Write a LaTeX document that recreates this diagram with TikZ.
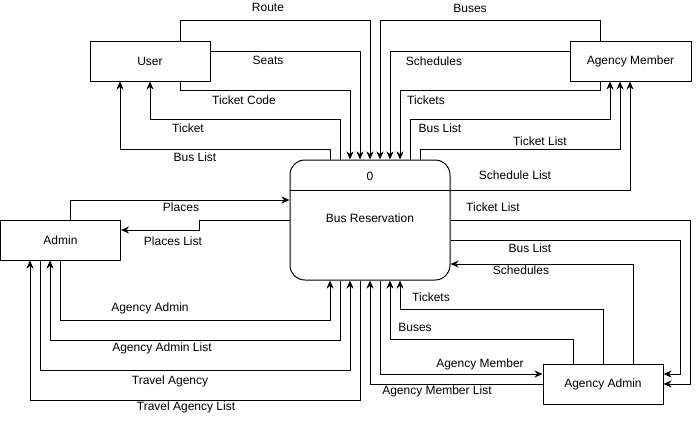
\documentclass[tikz,border=0pt]{standalone}
\usepackage{fontspec}
\setmainfont{Liberation Sans}
\usetikzlibrary{arrows.meta}

\tikzset{
	box/.style={draw, line width=1pt, minimum width=120pt, minimum height=40pt, inner sep=0pt, font=\fontsize{12}{14}\selectfont},
	flow/.style={draw, line width=1pt, -{Stealth[length=8pt,width=7pt,inset=2.5pt]}},
	lbl/.style={inner sep=0pt, font=\fontsize{12}{14}\selectfont}
}

\begin{document}
\begin{tikzpicture}[x=1pt,y=-1pt]
	\useasboundingbox (0,0) rectangle (699,421);

	% entities and the process
	\node[box] (user) at (150,61) {User};
	\node[box, minimum width=121pt] (amem) at (630.5,61) {Agency Member};
	\node[box] (admin) at (60.5,240) {Admin};
	\node[box] (aadm) at (603,384) {Agency Admin};
	\node[draw, line width=1pt, rounded corners=15pt, minimum width=160pt, minimum height=120pt] (bus) at (370,220) {};
	\draw[line width=1pt] (bus.west |- 0,190) -- (bus.east |- 0,190);
	\node[lbl] (busnum) at (370,176) {0};
	\node[lbl] (busname) at (370,218) {Bus Reservation};

	% user
	\draw[flow] (user.north -| 180,0) -- ++(0,-20) -| (bus.north -| 370,0);
	\draw[flow] (user.east |- 0,51) -| (bus.north -| 360,0);
	\draw[flow] (user.south -| 180,0) -- ++(0,9) -| (bus.north -| 350,0);
	\draw[flow] (bus.north -| 340,0) -- ++(0,-40) -| (user.south -| 150,0);
	\draw[flow] (bus.north -| 330,0) -- ++(0,-10) -| (user.south -| 120,0);
	\node[lbl] (lroute) at (268,7) {Route};
	\node[lbl] (lseats) at (268,60) {Seats};
	\node[lbl] (lcode) at (244,100) {Ticket Code};
	\node[lbl] (lticket) at (188,128) {Ticket};
	\node[lbl] (lbusu) at (195,157) {Bus List};

	% agency member
	\draw[flow] (amem.north -| 600,0) -- ++(0,-20) -| (bus.north -| 380,0);
	\draw[flow] (amem.west |- 0,51) -| (bus.north -| 390,0);
	\draw[flow] (amem.south -| 600,0) -- ++(0,9) -| (bus.north -| 400,0);
	\draw[flow] (bus.north -| 410,0) -- ++(0,-40) -| (amem.south -| 610,0);
	\draw[flow] (bus.north -| 420,0) -- ++(0,-10) -| (amem.south -| 620,0);
	\draw[flow] (bus.east |- 0,190) -| (amem.south -| 630,0);
	\node[lbl] (lbuses) at (470,8) {Buses};
	\node[lbl] (lsched) at (434,61) {Schedules};
	\node[lbl] (ltickets) at (426,100) {Tickets};
	\node[lbl] (lbusm) at (440,128) {Bus List};
	\node[lbl] (ltlistm) at (540,141) {Ticket List};
	\node[lbl] (lslist) at (515,175) {Schedule List};

	% admin
	\draw[flow] (admin.north -| 70,0) |- (bus.west |- 0,200);
	\draw[flow] (bus.west |- 0,220) -- ++(-90,0) |- (admin.east |- 0,230);
	\draw[flow] (admin.south -| 60,0) -- ++(0,60) -| (bus.south -| 330,0);
	\draw[flow] (bus.south -| 340,0) -- ++(0,60) -| (admin.south -| 50,0);
	\draw[flow] (admin.south -| 40,0) -- ++(0,110) -| (bus.south -| 350,0);
	\draw[flow] (bus.south -| 360,0) -- ++(0,120) -| (admin.south -| 30,0);
	\node[lbl] (lplaces) at (181,207) {Places};
	\node[lbl] (lplist) at (173,241) {Places List};
	\node[lbl] (laadm) at (150,308) {Agency Admin};
	\node[lbl] (laalist) at (162,348) {Agency Admin List};
	\node[lbl] (ltravel) at (170,381) {Travel Agency};
	\node[lbl] (ltlist) at (186,407) {Travel Agency List};

	% agency admin
	\draw[flow] (bus.south -| 380,0) |- (aadm.west |- 0,374);
	\draw[flow] (aadm.west |- 0,384) -| (bus.south -| 370,0);
	\draw[flow] (aadm.north -| 573,0) -- ++(0,-24) -| (bus.south -| 390,0);
	\draw[flow] (aadm.north -| 603,0) -- ++(0,-54) -| (bus.south -| 400,0);
	\draw[flow] (aadm.north -| 633,0) |- (bus.east |- 0,264);
	\draw[flow] (bus.east |- 0,240) -- ++(230,0) |- (aadm.east |- 0,374);
	\draw[flow] (bus.east |- 0,220) -- ++(240,0) |- (aadm.east |- 0,384);
	\node[lbl] (ltlista) at (493,207) {Ticket List};
	\node[lbl] (lbusa) at (530,248) {Bus List};
	\node[lbl] (lscheda) at (521,270) {Schedules};
	\node[lbl] (lticketsa) at (431,297) {Tickets};
	\node[lbl] (lbusesa) at (415,327) {Buses};
	\node[lbl] (lmember) at (480,364) {Agency Member};
	\node[lbl] (lmlist) at (437,391) {Agency Member List};
%	\node[lbl] at (370,240) {};
\end{tikzpicture}
\end{document}
